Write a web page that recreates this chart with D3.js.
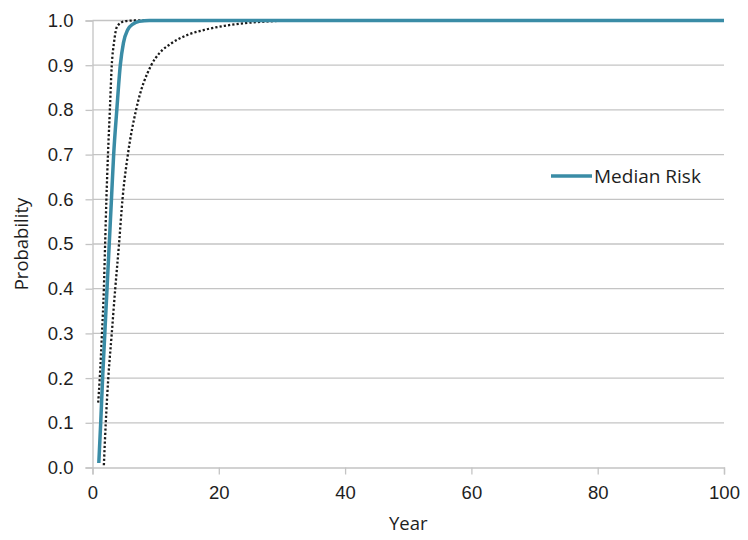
<!DOCTYPE html>
<html>
<head>
<meta charset="utf-8">
<script src="https://cdn.jsdelivr.net/npm/d3@7"></script>
<style>
  html, body { margin: 0; padding: 0; background: #fff; }
  svg { display: block; font-family: "Open Sans", "Noto Sans", sans-serif; }
</style>
</head>
<body>
<svg id="chart" width="748" height="540"></svg>
<script>
// ---- data ----
const xTicks = [0, 20, 40, 60, 80, 100];
const yTicks = [0, 0.1, 0.2, 0.3, 0.4, 0.5, 0.6, 0.7, 0.8, 0.9, 1.0];

const medianYears = [1.0, 1.3, 1.6, 1.95, 2.3, 2.65, 3.0, 3.35, 3.85, 4.4, 4.9, 5.6, 6.4, 7.4, 9, 12, 100];
const medianProb  = [0.01, 0.1, 0.2, 0.3, 0.4, 0.5, 0.6, 0.7, 0.8, 0.9, 0.95, 0.98, 0.992, 0.998, 1.0, 1.0, 1.0];

const upperYears = [0.9, 1.15, 1.5, 1.8, 2.0, 2.2, 2.45, 2.75, 3.05, 3.4, 3.9, 5.0, 6.5, 100];
const upperProb  = [0.145, 0.2, 0.3, 0.4, 0.5, 0.6, 0.7, 0.8, 0.9, 0.95, 0.987, 0.998, 1.0, 1.0];

const lowerYears = [1.8, 2.1, 2.5, 3.05, 3.6, 4.2, 4.75, 5.6, 6.9, 9.3, 10.6, 12.5, 15.1, 17.7, 20.9, 24.1, 27.8, 33, 100];
const lowerProb  = [0.005, 0.1, 0.2, 0.3, 0.4, 0.5, 0.6, 0.7, 0.8, 0.9, 0.927, 0.949, 0.968, 0.979, 0.988, 0.994, 0.998, 1.0, 1.0];

const legendLabel = "Median Risk";
const xTitle = "Year";
const yTitle = "Probability";

(function () {
// ---- layout ----
const svg = d3.select("#chart");
const mLeft = 92.5, mRight = 724, mTop = 20.5, mBottom = 467.5;
const fs = 18.5, txt = "#1e1e1e";

const x = d3.scaleLinear().domain([0, 100]).range([mLeft, mRight]);
const y = d3.scaleLinear().domain([0, 1]).range([mBottom, mTop]);

const gridColor = "#c4c4c4";

// gridlines
svg.append("g").selectAll("line").data(yTicks.filter(d => d > 0)).join("line")
  .attr("x1", mLeft).attr("x2", mRight)
  .attr("y1", d => y(d)).attr("y2", d => y(d))
  .attr("stroke", gridColor).attr("stroke-width", 1.3);

// y axis
const yAxis = svg.append("g").attr("transform", `translate(${mLeft},0)`)
  .call(d3.axisLeft(y).tickValues(yTicks).tickFormat(d3.format(".1f")).tickSize(7).tickPadding(12));
yAxis.select(".domain").attr("stroke", gridColor).attr("stroke-width", 1.3);
yAxis.selectAll(".tick line").attr("stroke", gridColor).attr("stroke-width", 1.3);
yAxis.selectAll("text").attr("font-size", fs).attr("fill", txt);

// x axis
const xAxis = svg.append("g").attr("transform", `translate(0,${mBottom})`)
  .call(d3.axisBottom(x).tickValues(xTicks).tickFormat(d3.format("d")).tickSize(7).tickPadding(11));
xAxis.select(".domain").attr("stroke", gridColor).attr("stroke-width", 1.3);
xAxis.selectAll(".tick line").attr("stroke", gridColor).attr("stroke-width", 1.3);
xAxis.selectAll("text").attr("font-size", fs).attr("fill", txt);

// lines
const line = d3.line().x(d => x(d[0])).y(d => y(d[1])).curve(d3.curveMonotoneX);
const zip = (a, b) => a.map((v, i) => [v, b[i]]);

svg.append("path").datum(zip(lowerYears, lowerProb)).attr("d", line)
  .attr("fill", "none").attr("stroke", "#1a1a1a").attr("stroke-width", 2.3)
  .attr("stroke-dasharray", "2.2 2.1");
svg.append("path").datum(zip(upperYears, upperProb)).attr("d", line)
  .attr("fill", "none").attr("stroke", "#1a1a1a").attr("stroke-width", 2.3)
  .attr("stroke-dasharray", "2.2 2.1");
svg.append("path").datum(zip(medianYears, medianProb)).attr("d", line)
  .attr("fill", "none").attr("stroke", "#3a8ca6").attr("stroke-width", 3.5);

// legend
const lg = svg.append("g").attr("transform", "translate(551,176)");
lg.append("line").attr("x1", 0).attr("x2", 41).attr("y1", 0).attr("y2", 0)
  .attr("stroke", "#3a8ca6").attr("stroke-width", 3.5);
lg.append("text").attr("x", 43).attr("y", 6.5).attr("font-size", fs + 0.5).attr("fill", txt)
  .text(legendLabel);

// axis titles
svg.append("text").attr("x", (mLeft + mRight) / 2).attr("y", 530).attr("text-anchor", "middle")
  .attr("font-size", fs).attr("fill", txt).text(xTitle);
svg.append("text").attr("transform", `translate(28,${(mTop + mBottom) / 2}) rotate(-90)`)
  .attr("text-anchor", "middle").attr("font-size", fs).attr("fill", txt).text(yTitle);
})();
</script>
</body>
</html>
